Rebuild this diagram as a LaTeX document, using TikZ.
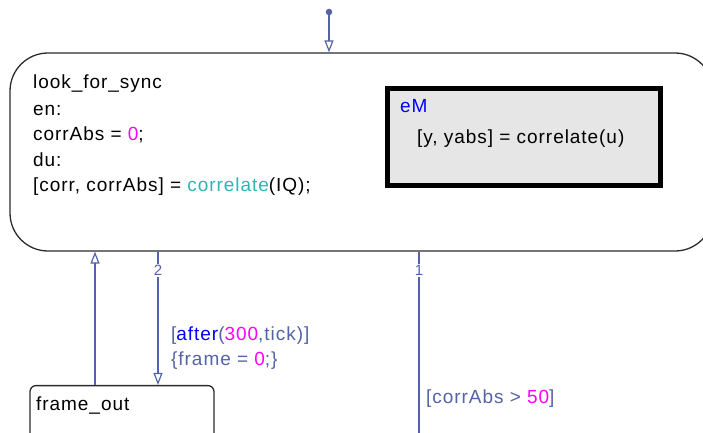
\documentclass[tikz,border=0pt]{standalone}
\usepackage{fontspec}
\setmainfont{Liberation Sans}[LetterSpace=5]
\usepackage{tikz}
\usetikzlibrary{arrows.meta,positioning,calc}
\usepackage{xcolor}
\definecolor{sfedge}{HTML}{5463A8}
\definecolor{sfnum}{HTML}{FF00FF}
\definecolor{sfkey}{HTML}{0000FF}
\definecolor{sffun}{HTML}{2DB5B5}
\definecolor{sfbox}{HTML}{E6E6E6}
\definecolor{sfline}{HTML}{2B2B2B}

\begin{document}
\begin{tikzpicture}[x=1pt, y=-1pt,
  font=\fontsize{19}{23}\selectfont,
  txt/.style={anchor=base west, inner sep=0pt},
  sfstate/.style={draw=sfline, line width=1.3pt, inner sep=0pt},
  sfarrow/.style={sfedge, line width=1.2pt, -{Triangle[open, length=12pt, width=9pt]}},
  prio/.style={fill=white, inner sep=1pt, text=sfedge, font=\fontsize{15}{17}\selectfont}]
\useasboundingbox (0,0) rectangle (703,433);
\clip (0,0) rectangle (703,433);
% ---------------- states ----------------
\node[sfstate, rounded corners=38, minimum width=703, minimum height=198] (lfs) at (361.5,152) {};
\node[sfstate, rounded corners=6, minimum width=184, minimum height=90] (fo) at (122,430.6) {};
\node[draw=black, fill=sfbox, line width=4.5pt, minimum width=273, minimum height=97, inner sep=0pt] (em) at (524,137) {};
% state texts
\node[txt] (lfsname) at (33,89) {look\_for\_sync};
\node[txt] (lfsen) at (33,115) {en:};
\node[txt] (lfsena) at (33,140.5) {corrAbs = \textcolor{sfnum}{0};};
\node[txt] (lfsdu) at (33,166) {du:};
\node[txt] (lfsdua) at (33,191.5) {[corr, corrAbs] = \textcolor{sffun}{correlate}(IQ);};
\node[txt, sfkey] (emname) at (400,113) {eM};
\node[txt] (emcall) at (417,143.5) {[y, yabs] = correlate(u)};
\node[txt] (foname) at (36,410) {frame\_out};
% ---------------- transitions ----------------
\node[circle, fill=sfedge, inner sep=0pt, minimum size=6.5] (dflt) at (329,12) {};
\draw[sfarrow] (dflt) -- (dflt |- lfs.north);
\coordinate (xback) at (95,0);
\coordinate (xtwo) at (158,0);
\coordinate (xone) at (419,0);
\draw[sfarrow] (fo.north -| xback) -- (lfs.south -| xback);
\draw[sfarrow] (lfs.south -| xtwo) -- (fo.north -| xtwo);
\draw[sfedge, line width=1.2pt] (lfs.south -| xone) -- (xone |- 0,440);
% labels
\node[prio] (prio2) at (158,270.5) {2};
\node[prio] (prio1) at (419,270.5) {1};
\node[txt, text=sfedge] (cond2) at (171,340) {[\textcolor{sfkey}{after}(\textcolor{sfnum}{300},tick)]};
\node[txt, text=sfedge] (act2) at (171,365) {\{frame = \textcolor{sfnum}{0};\}};
\node[txt, text=sfedge] (cond1) at (426,403) {[corrAbs > \textcolor{sfnum}{50}]};
\end{tikzpicture}
\end{document}
